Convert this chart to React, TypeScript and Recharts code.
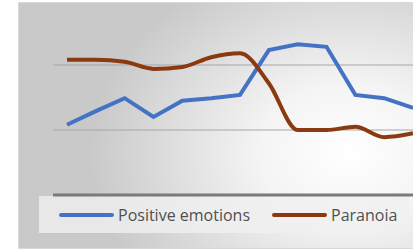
import { LineChart, Line, XAxis, YAxis, CartesianGrid, ReferenceLine } from 'recharts';

const categories = ['1', '2', '3', '4', '5', '6', '7', '8', '9', '10', '11', '12', '13'];
const positiveEmotions = [1.08, 1.29, 1.49, 1.2, 1.45, 1.49, 1.54, 2.23, 2.32, 2.28, 1.54, 1.49, 1.34];
const paranoia = [2.08, 2.08, 2.05, 1.94, 1.97, 2.12, 2.18, 1.72, 1.0, 1.0, 1.05, 0.89, 0.95];
const seriesNames = ['Positive emotions', 'Paranoia'];
const seriesColors = ['#4472c4', '#8b3a0f'];

const data = categories.map((c, i) => ({ c, pos: positiveEmotions[i], par: paranoia[i] }));

function LegendBox() {
  return (
    <div
      style={{
        position: 'absolute',
        left: 39,
        top: 196,
        width: 370,
        height: 37,
        background: 'rgba(240,240,240,0.8)',
        display: 'flex',
        alignItems: 'center',
        fontFamily: '"Open Sans", sans-serif',
        fontSize: 16,
        color: '#505050',
      }}
    >
      {seriesNames.map((name, i) => (
        <div key={name} style={{ display: 'flex', alignItems: 'center', marginLeft: i === 0 ? 20 : 22 }}>
          <div style={{ width: 55, height: 4, borderRadius: 2, background: seriesColors[i], marginRight: 4 }} />
          <span>{name}</span>
        </div>
      ))}
    </div>
  );
}

export default function App() {
  return (
    <div style={{ position: 'absolute', left: 0, top: 0, width: 413, height: 250, background: '#fff', overflow: 'hidden' }}>
      <div
        style={{
          position: 'absolute',
          left: 18,
          top: 2,
          width: 420,
          height: 245,
          border: '1px solid #d9d9d9',
          background: 'radial-gradient(ellipse 260px 200px at 330px 150px, #ffffff 0%, #f4f4f4 35%, #c9c9c9 100%)',
        }}
      />
      <LegendBox />
      <div style={{ position: 'absolute', left: 0, top: 0 }}>
        <LineChart width={413} height={250} data={data} margin={{ top: 0, right: 0, left: 53, bottom: 55 }}>
          <CartesianGrid vertical={false} horizontalValues={[1, 2]} stroke="#a6a6a6" strokeWidth={1} />
          <XAxis dataKey="c" hide padding={{ left: 14, right: 0 }} />
          <YAxis hide domain={[0, 3]} />
          <ReferenceLine y={0} stroke="#7a7a7a" strokeWidth={3} />
          <Line type="linear" dataKey="pos" name={seriesNames[0]} stroke={seriesColors[0]} strokeWidth={4} dot={false} isAnimationActive={false} />
          <Line type="monotone" dataKey="par" name={seriesNames[1]} stroke={seriesColors[1]} strokeWidth={4} dot={false} isAnimationActive={false} />
        </LineChart>
      </div>
    </div>
  );
}
